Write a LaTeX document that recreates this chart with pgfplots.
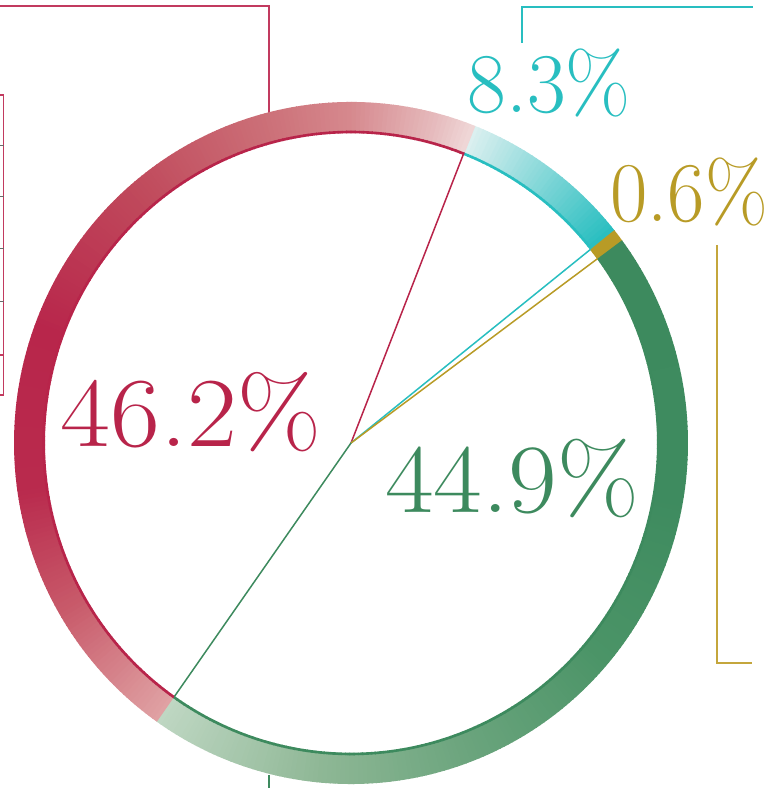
\documentclass[border=0pt]{standalone}
\usepackage{pgfplots}
\pgfplotsset{compat=1.18}
\usepackage{pgfplotstable}
\usepackage{graphicx}

% slice colours
\definecolor{redD}{HTML}{B8244A}
\definecolor{cyanD}{HTML}{28BEC0}
\definecolor{cyanL}{HTML}{DDF0F0}
\definecolor{goldD}{HTML}{B89B26}
\definecolor{greenD}{HTML}{3D8A5E}
\definecolor{calRed}{HTML}{C23A5F}
\definecolor{calGold}{HTML}{C4A63C}
\definecolor{calGray}{HTML}{6A6A6A}
% red gradient stops
\definecolor{rA}{HTML}{E0A2A4}
\definecolor{rB}{HTML}{C85A6A}
\definecolor{rC}{HTML}{B92A4D}
\definecolor{rD}{HTML}{B8264B}
\definecolor{rE}{HTML}{C04A5C}
\definecolor{rF}{HTML}{CC7078}
\definecolor{rG}{HTML}{D6898E}
\definecolor{rH}{HTML}{E6BCBE}
\definecolor{rI}{HTML}{F0D8D8}
% green gradient stops
\definecolor{gA}{HTML}{3D8A5E}
\definecolor{gB}{HTML}{3E8B5F}
\definecolor{gC}{HTML}{4B9467}
\definecolor{gD}{HTML}{6CA57E}
\definecolor{gE}{HTML}{8EB795}
\definecolor{gF}{HTML}{BFD7C3}

\pgfplotstableread{
label value
cyan  8.3
gold  0.6
green 44.9
red   46.2
}\ringdata

% ring geometry (axis units = pixels of the reference)
\def\cx{351}\def\cy{345}\def\ky{1.012}
\def\rin{307.5}\def\rout{337}

% one gradient section of the ring:
% #1 start angle, #2 end angle (clockwise from top, degrees), #3 colour at start, #4 colour at end, #5 inner r, #6 outer r
\newcommand\ringsec[6]{%
  \pgfmathtruncatemacro\secn{max(1,ceil(abs(#2-#1)/0.8))}%
  \pgfmathsetmacro\secstep{(#2-#1)/\secn}%
  \foreach \k in {1,...,\secn}{%
    \pgfmathsetmacro\pa{90-(#1+(\k-1)*\secstep)}%
    \pgfmathsetmacro\pb{90-(#1+\k*\secstep+0.15)}%
    \pgfmathtruncatemacro\mix{round(100*(1-(\k-0.5)/\secn))}%
    \pgfmathsetmacro\xa{\cx+#6*cos(\pa)}\pgfmathsetmacro\ya{\cy+#6*\ky*sin(\pa)}%
    \pgfmathsetmacro\xb{\cx+#6*cos(\pb)}\pgfmathsetmacro\yb{\cy+#6*\ky*sin(\pb)}%
    \pgfmathsetmacro\xc{\cx+#5*cos(\pb)}\pgfmathsetmacro\yc{\cy+#5*\ky*sin(\pb)}%
    \pgfmathsetmacro\xd{\cx+#5*cos(\pa)}\pgfmathsetmacro\yd{\cy+#5*\ky*sin(\pa)}%
    \edef\cmd{\noexpand\addplot[draw=none, fill=#3!\mix!#4, forget plot] coordinates {(\xa,\ya) (\xb,\yb) (\xc,\yc) (\xd,\yd)} -- cycle;}%
    \cmd
  }%
}
% section given as fractions #3..#4 of a slice running from #1 to #2
\newcommand\slicesec[6]{%
  \pgfmathsetmacro\ssa{#1+#3*(#2-#1)}%
  \pgfmathsetmacro\ssb{#1+#4*(#2-#1)}%
  \ringsec{\ssa}{\ssb}{#5}{#6}{\rin}{\rout}%
}
% radial line from centre to the inner edge at angle #1 in colour #2
\newcommand\radline[2]{%
  \pgfmathsetmacro\rlx{\cx+(\rin-1)*cos(90-#1)}%
  \pgfmathsetmacro\rly{\cy+(\rin-1)*\ky*sin(90-#1)}%
  \edef\cmd{\noexpand\addplot[draw=#2, line width=1.5bp, forget plot] coordinates {(\cx,\cy) (\rlx,\rly)};}%
  \cmd
}

\begin{document}
\begin{tikzpicture}
\pgfplotstablegetelem{0}{value}\of\ringdata\let\vCyan\pgfplotsretval
\pgfplotstablegetelem{1}{value}\of\ringdata\let\vGold\pgfplotsretval
\pgfplotstablegetelem{2}{value}\of\ringdata\let\vGreen\pgfplotsretval
\pgfplotstablegetelem{3}{value}\of\ringdata\let\vRed\pgfplotsretval
\pgfmathsetmacro\tA{21.5}
\pgfmathsetmacro\tB{\tA+3.6*\vCyan}
\pgfmathsetmacro\tC{\tB+3.6*\vGold}
\pgfmathsetmacro\tD{\tC+3.6*\vGreen}
\pgfmathsetmacro\tE{\tD+3.6*\vRed}
\begin{axis}[width=768bp, height=788bp, scale only axis,
  xmin=0, xmax=768, ymin=0, ymax=788, hide axis, clip=true]
\path (axis cs:0,0) rectangle (axis cs:768,788);

% callout lines (behind the ring)
\addplot[draw=calRed, line width=1.3bp, forget plot] coordinates {(0,782) (269,782) (269,668)};
\addplot[draw=calRed, line width=1.3bp, forget plot] coordinates {(0,693) (3.5,693) (3.5,393) (0,393)};
\addplot[draw=calGray, line width=1bp, forget plot] coordinates {(0,642) (3.5,642)};
\addplot[draw=calGray, line width=1bp, forget plot] coordinates {(0,591) (3.5,591)};
\addplot[draw=calGray, line width=1bp, forget plot] coordinates {(0,539) (3.5,539)};
\addplot[draw=calGray, line width=1bp, forget plot] coordinates {(0,486) (3.5,486)};
\addplot[draw=calRed, line width=2bp, forget plot] coordinates {(0,433) (3.5,433)};
\addplot[draw=cyanD, line width=1.2bp, forget plot] coordinates {(522,745) (522,781) (753,781)};
\addplot[draw=calGold, line width=1.3bp, forget plot] coordinates {(717,543) (717,125) (752,125)};
\addplot[draw=greenD, line width=1.2bp, forget plot] coordinates {(269,13) (269,0)};

% ring: cyan
\slicesec{\tA}{\tB}{0}{1}{cyanL}{cyanD}
% gold
\slicesec{\tB}{\tC}{0}{1}{goldD}{goldD}
% green
\slicesec{\tC}{\tD}{0}{0.287}{gA}{gB}
\slicesec{\tC}{\tD}{0.287}{0.473}{gB}{gC}
\slicesec{\tC}{\tD}{0.473}{0.658}{gC}{gD}
\slicesec{\tC}{\tD}{0.658}{0.813}{gD}{gE}
\slicesec{\tC}{\tD}{0.813}{1}{gE}{gF}
% red
\slicesec{\tD}{\tE}{0}{0.149}{rA}{rB}
\slicesec{\tD}{\tE}{0.149}{0.281}{rB}{rC}
\slicesec{\tD}{\tE}{0.281}{0.450}{rC}{rD}
\slicesec{\tD}{\tE}{0.450}{0.630}{rD}{rE}
\slicesec{\tD}{\tE}{0.630}{0.781}{rE}{rF}
\slicesec{\tD}{\tE}{0.781}{0.871}{rF}{rG}
\slicesec{\tD}{\tE}{0.871}{0.962}{rG}{rH}
\slicesec{\tD}{\tE}{0.962}{1}{rH}{rI}

% thin inner edge lines
\ringsec{\tA}{\tB}{cyanD}{cyanD}{306}{308.6}
\ringsec{\tB}{\tC}{goldD}{goldD}{306}{308.6}
\ringsec{\tC}{\tD}{greenD}{greenD}{306}{308.6}
\ringsec{\tD}{\tE}{redD}{redD}{306}{308.6}

% radial lines
\radline{\tE}{redD}
\radline{\tB}{cyanD}
\radline{\tC}{goldD}
\radline{\tD}{greenD}

% labels
\node[anchor=base, text=redD, inner sep=0pt, font=\fontsize{99bp}{99bp}\selectfont]
  at (axis cs:191,341) {\scalebox{1.097}[1]{46.2\%}};
\node[anchor=base, text=greenD, inner sep=0pt, font=\fontsize{98bp}{98bp}\selectfont]
  at (axis cs:512,275) {\scalebox{1.08}[1]{44.9\%}};
\node[anchor=base, text=cyanD, inner sep=0pt, font=\fontsize{85bp}{85bp}\selectfont]
  at (axis cs:549,675) {\scalebox{0.99}[1]{8.3\%}};
\node[anchor=base, text=goldD, inner sep=0pt, font=\fontsize{85bp}{85bp}\selectfont]
  at (axis cs:689,566) {\scalebox{0.955}[1]{0.6\%}};
\end{axis}
\end{tikzpicture}
\end{document}
